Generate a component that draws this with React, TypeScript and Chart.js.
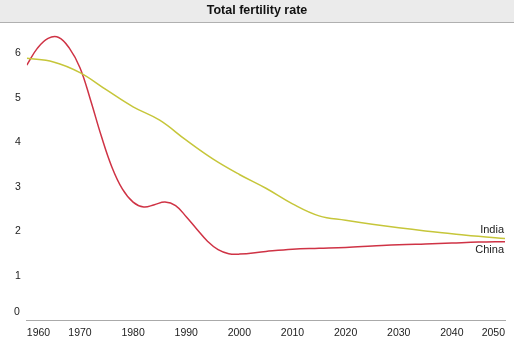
import React, { useEffect, useRef } from "react";
import { Chart, registerables } from "chart.js";

Chart.register(...registerables);

const TITLE = "Total fertility rate";
const chinaYears = [
  1960, 1962, 1964, 1966, 1968, 1970, 1972, 1974, 1976, 1978, 1980, 1982, 1984, 1986, 1988, 1990,
  1992, 1994, 1996, 1998, 2000, 2005, 2010, 2015, 2020, 2025, 2030, 2035, 2040, 2045, 2050,
];
const chinaValues = [
  5.74, 6.12, 6.34, 6.36, 6.12, 5.68, 4.95, 4.15, 3.45, 2.95, 2.66, 2.55, 2.6, 2.66, 2.58, 2.33,
  2.05, 1.78, 1.59, 1.5, 1.49, 1.55, 1.6, 1.62, 1.64, 1.67, 1.7, 1.72, 1.74, 1.76, 1.77,
];
const indiaYears = [
  1960, 1965, 1970, 1975, 1980, 1985, 1990, 1995, 2000, 2005, 2010, 2015, 2020, 2025, 2030, 2035,
  2040, 2045, 2050,
];
const indiaValues = [
  5.89, 5.81, 5.57, 5.18, 4.8, 4.5, 4.05, 3.63, 3.28, 2.97, 2.62, 2.35, 2.25, 2.16, 2.08, 2.01,
  1.95, 1.89, 1.84,
];
const yTicks = [0, 1, 2, 3, 4, 5, 6];
const seriesNames = ["India", "China"];

const FONT = "'Liberation Sans', Arial, sans-serif";

export default function App() {
  const ref = useRef<HTMLCanvasElement | null>(null);
  useEffect(() => {
    document.body.style.margin = "0";
    const canvas = ref.current!;
    const decor = {
      id: "decor",
      beforeDraw(chart: any) {
        const ctx = chart.ctx;
        ctx.save();
        ctx.fillStyle = "#ebebeb";
        ctx.fillRect(0, 0, chart.width, 22);
        ctx.fillStyle = "#b0b0b0";
        ctx.fillRect(0, 22, chart.width, 1);
        ctx.fillStyle = "#111";
        ctx.font = `bold 12.5px ${FONT}`;
        ctx.textAlign = "center";
        ctx.textBaseline = "middle";
        ctx.fillText(TITLE, chart.width / 2, 11);
        ctx.restore();
      },
      afterDraw(chart: any) {
        const ctx = chart.ctx;
        const ys = chart.scales.y;
        const xs = chart.scales.x;
        ctx.save();
        ctx.fillStyle = "#222";
        ctx.font = `10.5px ${FONT}`;
        ctx.textAlign = "center";
        ctx.textBaseline = "middle";
        const p0 = Math.min(ys.getPixelForValue(0), chart.chartArea.bottom - 8);
        ctx.fillText("0", 17, p0);
        ctx.font = `11px ${FONT}`;
        ctx.textAlign = "right";
        const xr = xs.getPixelForValue(indiaYears[indiaYears.length - 1]) - 1;
        const iy = ys.getPixelForValue(indiaValues[indiaValues.length - 1]);
        const cy = ys.getPixelForValue(chinaValues[chinaValues.length - 1]);
        ctx.fillText(seriesNames[0], xr, iy - 9);
        ctx.fillText(seriesNames[1], xr, cy + 8);
        ctx.restore();
      },
    };
    const chart = new Chart(canvas, {
      type: "line",
      data: {
        datasets: [
          {
            label: seriesNames[0],
            data: indiaYears.map((y, i) => ({ x: y, y: indiaValues[i] })),
            borderColor: "#c6c63a",
            borderWidth: 1.5,
            pointRadius: 0,
            tension: 0.4,
          },
          {
            label: seriesNames[1],
            data: chinaYears.map((y, i) => ({ x: y, y: chinaValues[i] })),
            borderColor: "#cf3345",
            borderWidth: 1.5,
            pointRadius: 0,
            tension: 0.4,
          },
        ],
      },
      options: {
        responsive: false,
        animation: false,
        layout: { padding: { top: 25, left: 9, right: 9, bottom: 5 } },
        plugins: { legend: { display: false }, tooltip: { enabled: false }, title: { display: false } },
        scales: {
          x: {
            type: "linear",
            min: 1960,
            max: 2050,
            ticks: {
              stepSize: 10,
              align: "inner",
              color: "#222",
              font: { size: 10.5, family: FONT },
              padding: 6,
              maxRotation: 0,
              callback: (v: any) => String(v),
            },
            grid: { display: false, drawTicks: false },
            border: { display: true, color: "#aaaaaa", width: 1 },
          },
          y: {
            min: 0,
            max: 6.64,
            afterBuildTicks: (s: any) => {
              s.ticks = yTicks.map((v) => ({ value: v }));
            },
            ticks: {
              color: "#222",
              font: { size: 10.5, family: FONT },
              padding: 6,
              callback: (v: any) => (v === 0 ? "" : String(v)),
            },
            grid: { display: false, drawTicks: false },
            border: { display: false },
          },
        },
      },
      plugins: [decor],
    });
    return () => chart.destroy();
  }, []);
  return <canvas ref={ref} width={514} height={350} style={{ display: "block" }} />;
}
